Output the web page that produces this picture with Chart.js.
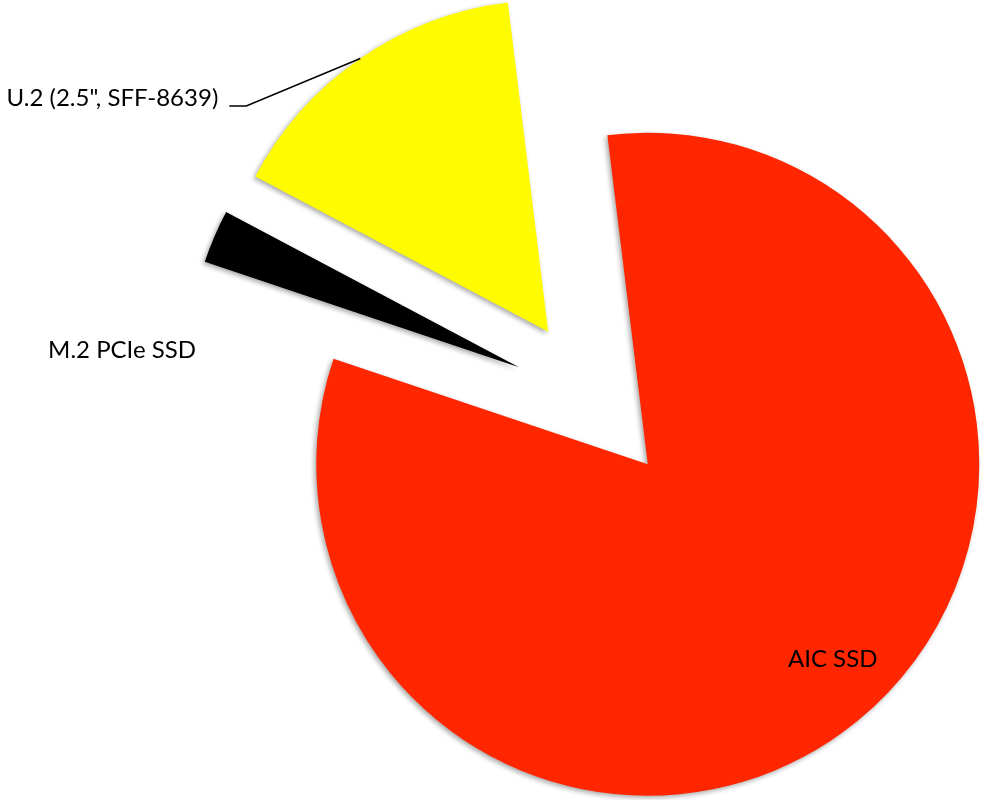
<!DOCTYPE html>
<html>
<head>
<meta charset="utf-8">
<script src="https://cdn.jsdelivr.net/npm/chart.js@4/dist/chart.umd.min.js"></script>
<style>
  html, body { margin: 0; padding: 0; background: #fff; }
  #wrap { width: 983px; height: 800px; position: relative; }
</style>
</head>
<body>
<div id="wrap"><canvas id="pie"></canvas></div>
<script>
// slice data (share of products)
const labels = ['AIC SSD', 'M.2 PCIe SSD', 'U.2 (2.5", SFF-8639)'];
const shares = [82.1, 2.6, 15.3];
const colors = ['#FF2600', '#000000', '#FFFB00'];

const EXPLODE = 83;   // every slice pulled out from the centre
const RADIUS = 331.5;

// push each arc out along its own mid angle
const explodePlugin = {
    id: 'explode',
    afterDatasetUpdate(chart, args) {
        const meta = chart.getDatasetMeta(args.index);
        meta.data.forEach(arc => {
            const mid = (arc.startAngle + arc.endAngle) / 2;
            arc.x += Math.cos(mid) * EXPLODE;
            arc.y += Math.sin(mid) * EXPLODE;
        });
    },
    beforeDatasetsDraw(chart) {
        const ctx = chart.ctx;
        ctx.save();
        ctx.shadowColor = 'rgba(0,0,0,0.35)';
        ctx.shadowBlur = 5;
        ctx.shadowOffsetX = -2;
        ctx.shadowOffsetY = 2;
    },
    afterDatasetsDraw(chart) {
        chart.ctx.restore();
    }
};

// slice labels, placed from the arcs themselves
const labelPlugin = {
    id: 'sliceLabels',
    afterDraw(chart) {
        const ctx = chart.ctx;
        const arcs = chart.getDatasetMeta(0).data;
        ctx.save();
        ctx.font = '24px Lato';
        ctx.fillStyle = '#000';
        ctx.textBaseline = 'alphabetic';

        // AIC SSD - inside the red slice
        const a = arcs[0];
        const midA = (a.startAngle + a.endAngle) / 2 - 4.3 * Math.PI / 180;
        ctx.textAlign = 'center';
        ctx.fillText(labels[0], a.x + Math.cos(midA) * a.outerRadius * 0.81,
                     a.y + Math.sin(midA) * a.outerRadius * 0.81 + 8);

        // M.2 PCIe SSD - out to the left of the black slice
        const b = arcs[1];
        ctx.textAlign = 'right';
        ctx.fillText(labels[1], b.x - 323, b.y - 9);

        // U.2 - leader line from the yellow edge
        const c = arcs[2];
        const midC = (c.startAngle + c.endAngle) / 2;
        const ex = c.x + Math.cos(midC) * c.outerRadius;
        const ey = c.y + Math.sin(midC) * c.outerRadius;
        const kx = ex - 114, ky = ey + 47.5;
        ctx.strokeStyle = '#000';
        ctx.lineWidth = 1.5;
        ctx.beginPath();
        ctx.moveTo(ex, ey);
        ctx.lineTo(kx, ky);
        ctx.lineTo(kx - 17, ky);
        ctx.stroke();
        ctx.textAlign = 'right';
        ctx.fillText(labels[2], kx - 28, ky);
        ctx.restore();
    }
};

const chart = new Chart(document.getElementById('pie'), {
    type: 'pie',
    data: {
        labels: labels,
        datasets: [{
            data: shares,
            backgroundColor: colors,
            borderWidth: 0,
            hoverOffset: 0
        }]
    },
    options: {
        responsive: true,
        maintainAspectRatio: false,
        animation: false,
        events: [],
        rotation: -7,
        radius: RADIUS,
        layout: { padding: { left: 207.6, right: 0, top: 0, bottom: 0 } },
        plugins: {
            legend: { display: false },
            tooltip: { enabled: false }
        }
    },
    plugins: [explodePlugin, labelPlugin]
});
</script>
</body>
</html>
